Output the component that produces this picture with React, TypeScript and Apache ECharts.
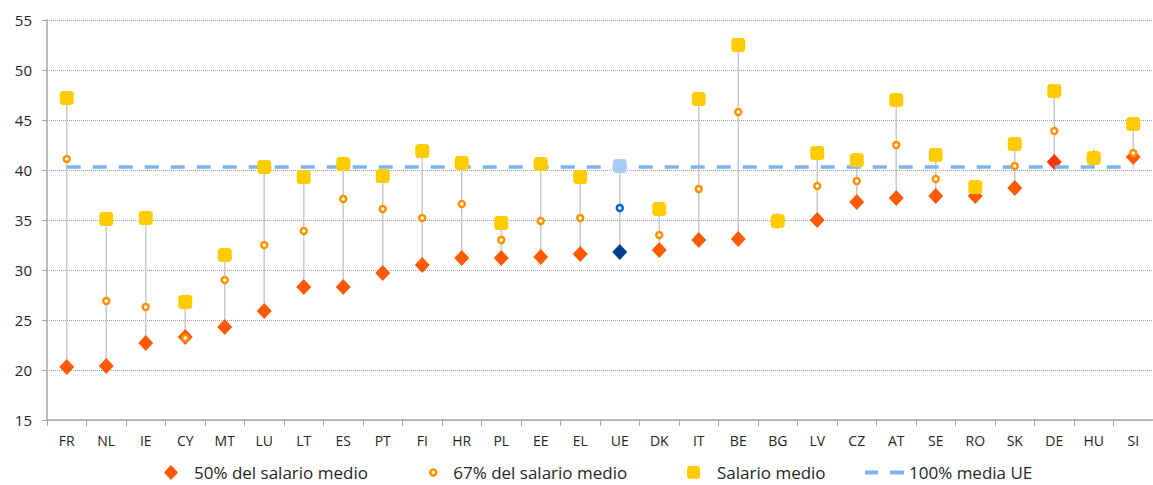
import React, { useEffect, useRef } from "react";
import * as echarts from "echarts";

const categories = ["FR","NL","IE","CY","MT","LU","LT","ES","PT","FI","HR","PL","EE","EL","UE","DK","IT","BE","BG","LV","CZ","AT","SE","RO","SK","DE","HU","SI"];
const salarioMedio = [47.2,35.1,35.2,26.8,31.5,40.3,39.3,40.6,39.4,41.9,40.7,34.7,40.6,39.3,40.4,36.1,47.1,52.5,34.9,41.7,41.0,47.0,41.5,38.3,42.6,47.9,41.2,44.6];
const salario67 = [41.1,26.9,26.3,23.2,29.0,32.5,33.9,37.1,36.1,35.2,36.6,33.0,34.9,35.2,36.2,33.5,38.1,45.8,34.9,38.4,38.9,42.5,39.1,38.0,40.4,43.9,41.2,41.7];
const salario50 = [20.3,20.4,22.7,23.3,24.3,25.9,28.3,28.3,29.7,30.5,31.2,31.2,31.3,31.6,31.8,32.0,33.0,33.1,34.9,35.0,36.8,37.2,37.4,37.4,38.2,40.8,41.2,41.3];
const mediaUE = 40.3;
const yTicks = { min: 15, max: 55, interval: 5 };

const names = ["50% del salario medio", "67% del salario medio", "Salario medio", "100% media UE"];

const C_RED = "#FF5A00";
const C_ORANGE = "#FF9000";
const C_YELLOW = "#FFCC00";
const C_LINE = "#7DB4F2";
const FONT = "Open Sans";

export default function App() {
  const ref = useRef<HTMLDivElement>(null);
  useEffect(() => {
    if (!ref.current) return;
    const chart = echarts.init(ref.current, null, { renderer: "svg" });
    const stems = categories.map((_, i) => {
      const vals = [salarioMedio[i], salario67[i], salario50[i]];
      return [i, Math.min(...vals), Math.max(...vals)];
    });
    const d50 = salario50.map((v, i) => {
      if (categories[i] === "UE") return { value: v, itemStyle: { color: "#003F8C" } };
      if (categories[i] === "DE") return { value: v, itemStyle: { color: "#FF3300" } };
      return v;
    });
    const d67 = salario67.map((v, i) =>
      categories[i] === "UE" ? { value: v, itemStyle: { borderColor: "#0066CC" } } : v
    );
    const dMed = salarioMedio.map((v, i) =>
      categories[i] === "UE" ? { value: v, itemStyle: { color: "#A8CCF5" } } : v
    );
    const legendBase = {
      top: 464,
      orient: "horizontal",
      itemGap: 0,
      padding: 0,
      selectedMode: false,
    };
    const txt = (padLeft: number) => ({
      fontFamily: FONT,
      fontSize: 17,
      color: "#262626",
      padding: [0, 0, 0, padLeft],
    });
    chart.setOption({
      animation: false,
      backgroundColor: "#fff",
      grid: { left: 47, top: 20, width: 1120, height: 400 },
      legend: [
        { ...legendBase, left: 164, data: [names[0]], itemWidth: 14, itemHeight: 15, textStyle: txt(11) },
        {
          ...legendBase,
          left: 429,
          data: [{ name: names[1], itemStyle: { color: "#fff", borderColor: C_ORANGE, borderWidth: 2.5 } }],
          itemWidth: 6,
          itemHeight: 6,
          textStyle: txt(12),
        },
        { ...legendBase, left: 687, data: [names[2]], itemWidth: 13, itemHeight: 13, textStyle: txt(12) },
        {
          ...legendBase,
          left: 865,
          data: [{ name: names[3], icon: "path://M0,0h13v4h-13z M25,0h14v4h-14z" }],
          itemWidth: 39,
          itemHeight: 4,
          textStyle: txt(0),
        },
      ],
      xAxis: {
        type: "category",
        data: categories,
        boundaryGap: true,
        axisLine: { lineStyle: { color: "#A6A6A6", width: 1.5 } },
        axisTick: { show: true, length: 6, lineStyle: { color: "#A6A6A6" } },
        axisLabel: { fontFamily: FONT, fontSize: 14, color: "#262626", margin: 13 },
        splitLine: { show: false },
      },
      yAxis: {
        type: "value",
        min: yTicks.min,
        max: yTicks.max,
        interval: yTicks.interval,
        axisLine: { show: true, lineStyle: { color: "#A6A6A6", width: 1.5 } },
        axisTick: { show: true, length: 5, lineStyle: { color: "#A6A6A6" } },
        axisLabel: { fontFamily: FONT, fontSize: 15, color: "#262626", margin: 15 },
        splitLine: { show: true, lineStyle: { color: "#A0A0A0", type: "dotted", width: 1 } },
      },
      series: [
        {
          type: "custom",
          name: "stems",
          z: 1,
          data: stems,
          renderItem: (params: any, api: any) => {
            const p1 = api.coord([api.value(0), api.value(1)]);
            const p2 = api.coord([api.value(0), api.value(2)]);
            return {
              type: "line",
              shape: { x1: p1[0], y1: p1[1], x2: p2[0], y2: p2[1] },
              style: { stroke: "#CACACA", lineWidth: 1.5 },
            };
          },
          silent: true,
        },
        {
          type: "scatter",
          name: names[0],
          z: 2,
          symbol: "diamond",
          symbolSize: [15, 16],
          itemStyle: { color: C_RED, opacity: 1 },
          data: d50,
        },
        {
          type: "line",
          name: names[3],
          z: 3,
          symbol: "none",
          data: categories.map(() => mediaUE),
          lineStyle: { color: C_LINE, width: 3.5, type: [14, 12] },
          itemStyle: { color: C_LINE },
        },
        {
          type: "scatter",
          name: names[1],
          z: 4,
          symbol: "circle",
          symbolSize: 6,
          itemStyle: { color: "#fff", borderColor: C_ORANGE, borderWidth: 2.5, opacity: 1 },
          data: d67,
        },
        {
          type: "scatter",
          name: names[2],
          z: 5,
          symbol: "roundRect",
          symbolSize: 14,
          itemStyle: { color: C_YELLOW, opacity: 1 },
          data: dMed,
        },
      ],
    });
    return () => chart.dispose();
  }, []);
  return <div ref={ref} style={{ position: "absolute", left: 0, top: 0, width: 1153, height: 485 }} />;
}
